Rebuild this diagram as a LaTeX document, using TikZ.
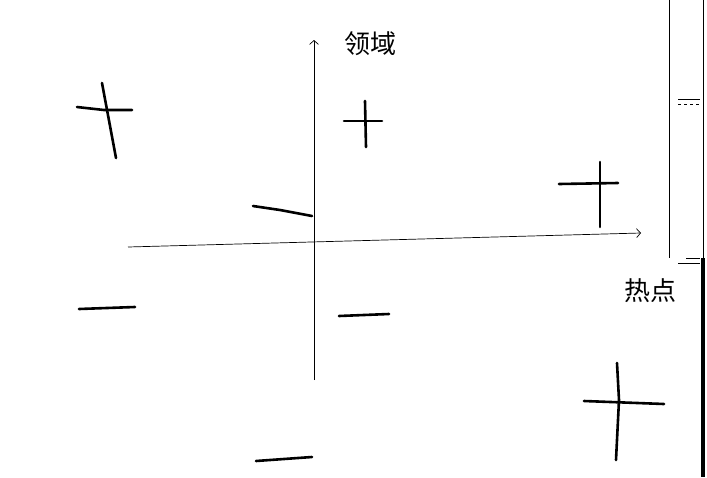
\documentclass[tikz,border=0pt]{standalone}
\usepackage{fontspec}
\newfontfamily\cjk{Noto Sans CJK SC}
\usetikzlibrary{arrows.meta}
\tikzset{
  axisline/.style={black, line width=0.7pt, -{Straight Barb[length=4pt,width=9pt]}},
  signline/.style={black, line width=2.6pt, line cap=round},
  axislabel/.style={font=\cjk\fontsize{26}{26}\selectfont, inner sep=0pt},
  edgeline/.style={black, line width=0.9pt},
}
\begin{document}
\begin{tikzpicture}[x=1pt,y=-1pt]
  \useasboundingbox (0,0) rectangle (707,477);
  % axes
  \coordinate (xstart) at (128,247);
  \coordinate (xend) at (641,233);
  \coordinate (ystart) at (314,380);
  \coordinate (yend) at (314,40);
  \draw[axisline] (xstart) -- (xend);
  \draw[axisline] (ystart) -- (yend);
  \node[axislabel] (ylab) at (370,44) {领域};
  \node[axislabel] (xlab) at (650,291) {热点};
  % plus signs
  \draw[signline] (77,107) -- (104,110) -- (132,110);
  \draw[signline] (102,83) -- (116,158);
  \draw[signline] (344,121) -- (382,121);
  \draw[signline] (365,101) -- (366,147);
  \draw[signline] (559,184) -- (618,183);
  \draw[signline] (600,162) -- (600,227);
  \draw[signline] (584,401) -- (664,404);
  \draw[signline] (617,363) -- (619,400) -- (616,460);
  % minus signs
  \draw[signline] (253,206) -- (280,210) -- (312,216);
  \draw[signline] (79,309) -- (135,307);
  \draw[signline] (339,316) -- (389,314);
  \draw[signline] (256,461) -- (312,457);
  % right edge
  \draw[edgeline] (669,0) -- (669,258);
  \draw[edgeline] (703,0) -- (703,258);
  \draw[black, line width=3.5pt] (703,258) -- (703,477);
  \draw[edgeline] (678,99) -- (700,99);
  \draw[edgeline, dashed] (678,104) -- (700,104);
  \draw[edgeline] (686,258) -- (700,258);
  \draw[edgeline] (678,263) -- (700,263);
\end{tikzpicture}
\end{document}
